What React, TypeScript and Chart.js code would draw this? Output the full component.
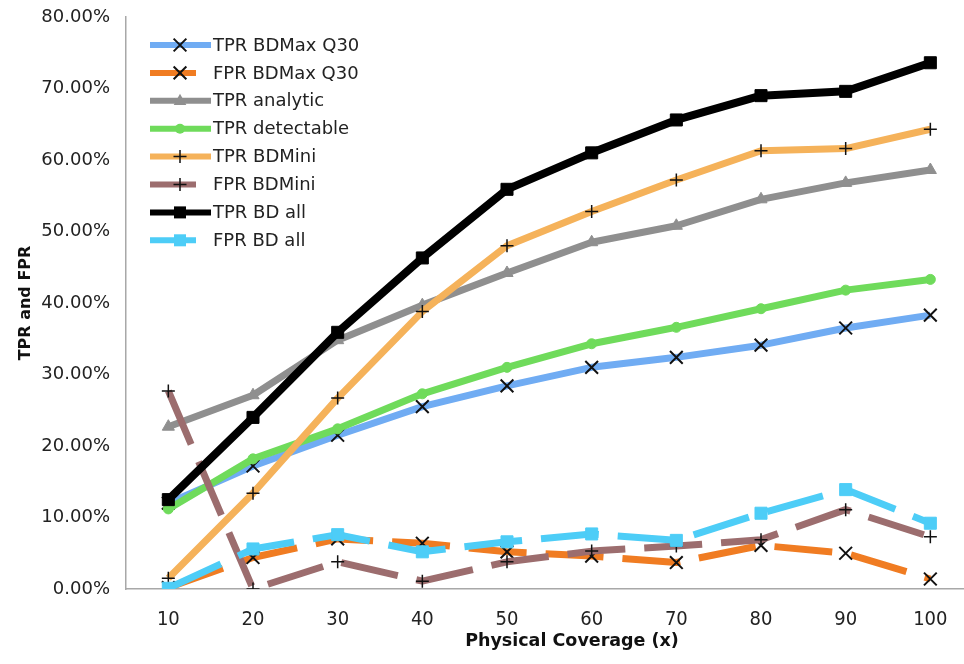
import React, { useEffect, useRef } from "react";
import { Chart, registerables } from "chart.js";

Chart.register(...registerables);

// ---- data (values in percent) ----
const coverage = [10, 20, 30, 40, 50, 60, 70, 80, 90, 100];
const yTickValues = [0, 10, 20, 30, 40, 50, 60, 70, 80];
const xTitle = "Physical Coverage (x)";
const yTitle = "TPR and FPR";

const tprBDMaxQ30 = [12.0, 17.2, 21.5, 25.5, 28.4, 31.0, 32.4, 34.1, 36.5, 38.3];
const fprBDMaxQ30 = [0.2, 4.4, 7.0, 6.4, 5.2, 4.6, 3.7, 6.1, 5.0, 1.4];
const tprAnalytic = [22.7, 27.1, 34.8, 39.7, 44.2, 48.5, 50.8, 54.5, 56.8, 58.6];
const tprDetectable = [11.2, 18.2, 22.4, 27.3, 31.0, 34.3, 36.6, 39.2, 41.8, 43.3];
const tprBDMini = [1.5, 13.4, 26.7, 38.8, 48.0, 52.8, 57.2, 61.3, 61.6, 64.3];
const fprBDMini = [27.7, 0.0, 3.8, 1.1, 3.8, 5.3, 6.0, 6.9, 11.1, 7.3];
const tprBDAll = [12.5, 24.0, 35.9, 46.3, 55.9, 61.0, 65.6, 69.0, 69.6, 73.6];
const fprBDAll = [0.1, 5.6, 7.6, 5.2, 6.6, 7.7, 6.8, 10.6, 13.9, 9.2];

const FONT = "'DejaVu Sans', Verdana, 'Noto Sans', sans-serif";
const NARROW = "'DejaVu Sans Condensed', 'Liberation Sans Narrow', 'DejaVu Sans', sans-serif";
const DASH = [58, 19];

function drawMarker(ctx: CanvasRenderingContext2D, style: string, x: number, y: number, r: number, fill: string, stroke: string, bw: number) {
  ctx.save();
  ctx.setLineDash([]);
  ctx.fillStyle = fill;
  ctx.strokeStyle = stroke;
  ctx.lineWidth = bw;
  ctx.beginPath();
  if (style === "crossRot") {
    const d = r * Math.SQRT1_2;
    ctx.moveTo(x - d, y - d); ctx.lineTo(x + d, y + d);
    ctx.moveTo(x - d, y + d); ctx.lineTo(x + d, y - d);
    ctx.stroke();
  } else if (style === "cross") {
    ctx.moveTo(x - r, y); ctx.lineTo(x + r, y);
    ctx.moveTo(x, y - r); ctx.lineTo(x, y + r);
    ctx.stroke();
  } else if (style === "triangle") {
    ctx.moveTo(x, y - r);
    ctx.lineTo(x + r * 0.9, y + r * 0.6);
    ctx.lineTo(x - r * 0.9, y + r * 0.6);
    ctx.closePath();
    ctx.fill();
  } else if (style === "circle") {
    ctx.arc(x, y, r, 0, Math.PI * 2);
    ctx.fill();
  } else if (style === "rect") {
    const s = r * Math.SQRT1_2;
    ctx.rect(x - s, y - s, 2 * s, 2 * s);
    ctx.fill();
  }
  ctx.restore();
}

const insideLegend = {
  id: "insideLegend",
  afterDatasetsDraw(chart: any) {
    const ctx: CanvasRenderingContext2D = chart.ctx;
    ctx.save();
    chart.data.datasets.forEach((ds: any, i: number) => {
      const y = 45 + i * 27.9;
      const dashed = Array.isArray(ds.borderDash) && ds.borderDash.length > 0;
      ctx.setLineDash([]);
      ctx.strokeStyle = ds.borderColor;
      ctx.lineWidth = 6;
      ctx.lineCap = "butt";
      ctx.beginPath();
      ctx.moveTo(150, y);
      ctx.lineTo(dashed ? 196 : 211, y);
      ctx.stroke();
      drawMarker(ctx, ds.pointStyle, 180, y, ds.pointRadius, ds.pointBackgroundColor, ds.pointBorderColor, ds.pointBorderWidth);
      ctx.fillStyle = "#222";
      ctx.font = `18px ${FONT}`;
      ctx.textAlign = "left";
      ctx.textBaseline = "middle";
      ctx.fillText(ds.label, 213, y + 1);
    });
    ctx.restore();
  },
};

// x-axis title, placed like the original (centred on the full, partly cropped plot width)
const xAxisTitle = {
  id: "xAxisTitle",
  afterDraw(chart: any) {
    const ctx: CanvasRenderingContext2D = chart.ctx;
    ctx.save();
    ctx.fillStyle = "#111";
    ctx.font = `bold 17.5px ${FONT}`;
    ctx.textAlign = "center";
    ctx.textBaseline = "middle";
    ctx.fillText(xTitle, 572, 641);
    ctx.restore();
  },
};

function series(label: string, values: number[], color: string, opts: any) {
  return {
    label,
    data: coverage.map((c, i) => ({ x: c, y: values[i] })),
    borderColor: color,
    backgroundColor: color,
    borderWidth: 7,
    borderCapStyle: "butt",
    borderJoinStyle: "round",
    tension: 0,
    pointBackgroundColor: color,
    pointBorderColor: color,
    pointBorderWidth: 1,
    ...opts,
  };
}

export default function App() {
  const ref = useRef<HTMLCanvasElement | null>(null);

  useEffect(() => {
    if (!ref.current) return;
    const datasets: any[] = [
      series("TPR BDMax Q30", tprBDMaxQ30, "#70acf3", { pointStyle: "crossRot", pointRadius: 9, pointBorderColor: "#111", pointBorderWidth: 2 }),
      series("FPR BDMax Q30", fprBDMaxQ30, "#f07c22", { pointStyle: "crossRot", pointRadius: 9, pointBorderColor: "#111", pointBorderWidth: 2, borderDash: DASH }),
      series("TPR analytic", tprAnalytic, "#8f8f8f", { pointStyle: "triangle", pointRadius: 7 }),
      series("TPR detectable", tprDetectable, "#6fdb5b", { pointStyle: "circle", pointRadius: 5 }),
      series("TPR BDMini", tprBDMini, "#f5b25a", { pointStyle: "cross", pointRadius: 6.5, pointBorderColor: "#111", pointBorderWidth: 1.5 }),
      series("FPR BDMini", fprBDMini, "#9c6d6e", { pointStyle: "cross", pointRadius: 6.5, pointBorderColor: "#111", pointBorderWidth: 1.5, borderDash: DASH }),
      series("TPR BD all", tprBDAll, "#000000", { pointStyle: "rect", pointRadius: 8.5, borderWidth: 8 }),
      series("FPR BD all", fprBDAll, "#4dcdf7", { pointStyle: "rect", pointRadius: 8.5, borderDash: DASH }),
    ];
    datasets.forEach((d, i) => (d.order = datasets.length - i));

    const chart = new Chart(ref.current, {
      type: "line",
      data: { datasets },
      plugins: [insideLegend, xAxisTitle],
      options: {
        animation: false,
        responsive: false,
        devicePixelRatio: 1,
        layout: { padding: { top: 17, right: 0, bottom: 0, left: 0 } },
        plugins: {
          legend: { display: false },
          tooltip: { enabled: false },
        },
        scales: {
          x: {
            type: "linear",
            min: 5,
            max: 107.4,
            afterBuildTicks: (axis: any) => {
              axis.ticks = coverage.map((v) => ({ value: v }));
            },
            afterFit: (scale: any) => {
              scale.height = 75;
              scale.paddingLeft = 0;
              scale.paddingRight = 0;
            },
            grid: { display: false, drawTicks: false },
            border: { display: true, color: "#a8a8a8", width: 1.5 },
            ticks: {
              padding: 19,
              autoSkip: false,
              maxRotation: 0,
              color: "#222",
              font: { family: NARROW, size: 20 },
              callback: (v: any) => String(v),
            },
            title: { display: false },
          },
          y: {
            min: 0,
            max: 80,
            afterBuildTicks: (axis: any) => {
              axis.ticks = yTickValues.map((v) => ({ value: v }));
            },
            afterFit: (scale: any) => {
              scale.width = 126;
              scale.paddingTop = 0;
              scale.paddingBottom = 0;
            },
            grid: { display: false, drawTicks: false },
            border: { display: true, color: "#a8a8a8", width: 1.5 },
            ticks: {
              padding: 16,
              color: "#222",
              font: { family: FONT, size: 18 },
              callback: (v: any) => Number(v).toFixed(2) + "%",
            },
            title: {
              display: true,
              text: yTitle,
              color: "#111",
              font: { family: FONT, size: 16, weight: "bold" },
              padding: { top: 16, bottom: 0 },
            },
          },
        },
      } as any,
    });
    return () => chart.destroy();
  }, []);

  return (
    <div
      style={{
        position: "fixed",
        left: 0,
        top: 0,
        width: 964,
        height: 664,
        overflow: "hidden",
        background: "#fff",
      }}
    >
      <canvas ref={ref} width={1004} height={664} style={{ display: "block" }} />
    </div>
  );
}
